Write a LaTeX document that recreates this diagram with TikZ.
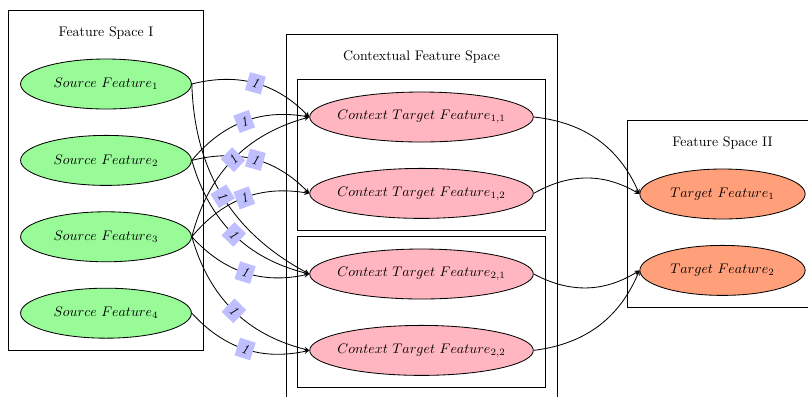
\documentclass[tikz,border=0pt]{standalone}
\usepackage{xcolor}
\definecolor{cSrc}{HTML}{98FB98}
\definecolor{cCtx}{HTML}{FFB6C1}
\definecolor{cTgt}{HTML}{FFA07A}
\definecolor{cWeight}{HTML}{BFBFFF}
\usepackage{tikz}
\usetikzlibrary{positioning,fit,shapes.geometric,arrows}
\tikzset{
  feat-src/.style={ellipse,draw,fill=cSrc,minimum width=123pt,minimum height=36pt},
  feat-ctx/.style={ellipse,draw,fill=cCtx,inner xsep=-6pt,minimum width=161pt,minimum height=36pt},
  feat-tgt/.style={ellipse,draw,fill=cTgt,minimum width=119pt,minimum height=36pt},
  space-box/.style={draw,inner sep=8.5pt},
  space-title/.style={align=center},
  % gewicht auf jeder kante, schraeg mitgedreht
  weight/.style={fill=cWeight,sloped,midway,font=\itshape},
  arrow/.style={-stealth},
}

\begin{document}
\begin{tikzpicture}[x=0.72pt,y=0.72pt,node distance=18.4pt,semithick]
  \useasboundingbox (0,0) rectangle (808,-396);
  % feature space I
  \node[feat-src] (s1) at (106,-84) {$Source\ Feature_1$};
  \node[feat-src,below=of s1] (s2) {$Source\ Feature_2$};
  \node[feat-src,below=of s2] (s3) {$Source\ Feature_3$};
  \node[feat-src,below=of s3] (s4) {$Source\ Feature_4$};
  \node[space-title,above=10pt of s1] (ttl1) {Feature Space I};
  \node[space-box,fit=(ttl1)(s1)(s4)] (fs1) {};
  % contextual feature space
  \node[feat-ctx] (c11) at (421.5,-117) {$Context\ Target\ Feature_{1,1}$};
  \node[feat-ctx,below=of c11] (c12) {$Context\ Target\ Feature_{1,2}$};
  \node[feat-ctx] (c21) at (421.5,-274) {$Context\ Target\ Feature_{2,1}$};
  \node[feat-ctx,below=of c21] (c22) {$Context\ Target\ Feature_{2,2}$};
  \node[space-box,fit=(c11)(c12)] (grp1) {};
  \node[space-box,fit=(c21)(c22)] (grp2) {};
  \node[space-title,above=8pt of grp1] (ttlc) {Contextual Feature Space};
  \node[space-box,inner sep=8pt,fit=(ttlc)(grp1)(grp2)] (fsc) {};
  % feature space II
  \node[feat-tgt] (t1) at (722.5,-194) {$Target\ Feature_1$};
  \node[feat-tgt,below=of t1] (t2) {$Target\ Feature_2$};
  \node[space-title,above=10pt of t1] (ttl2) {Feature Space II};
  \node[space-box,fit=(ttl2)(t1)(t2)] (fs2) {};

  \draw[arrow] (s1.east) to[bend left=30]  node[weight] {1} (c11.west);
  \draw[arrow] (s1.east) to[bend right=30] node[weight] {1} (c21.west);
  \draw[arrow] (s2.east) to[bend left=30]  node[weight] {1} (c11.west);
  \draw[arrow] (s2.east) to[bend left=30]  node[weight] {1} (c12.west);
  \draw[arrow] (s2.east) to[bend right=30] node[weight] {1} (c21.west);
  \draw[arrow] (s3.east) to[bend left=30]  node[weight] {1} (c11.west);
  \draw[arrow] (s3.east) to[bend left=30]  node[weight] {1} (c12.west);
  \draw[arrow] (s3.east) to[bend right=30] node[weight] {1} (c21.west);
  \draw[arrow] (s3.east) to[bend right=30] node[weight] {1} (c22.west);
  \draw[arrow] (s4.east) to[bend right=30] node[weight] {1} (c22.west);

  \draw[arrow] (c11.east) to[bend left=30]  (t1.west);
  \draw[arrow] (c12.east) to[bend left=30]  (t1.west);
  \draw[arrow] (c21.east) to[bend right=30] (t2.west);
  \draw[arrow] (c22.east) to[bend right=30] (t2.west);
\end{tikzpicture}
\end{document}
